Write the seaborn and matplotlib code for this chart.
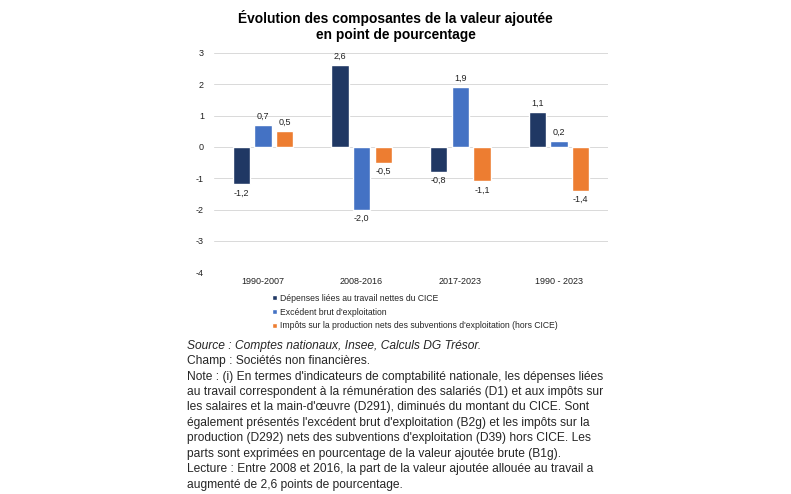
import pandas as pd
import seaborn as sns
import matplotlib.pyplot as plt

periodes = ["1990-2007", "2008-2016", "2017-2023", "1990 - 2023"]
series = [
    "Dépenses liées au travail nettes du CICE",
    "Excédent brut d'exploitation",
    "Impôts sur la production nets des subventions d'exploitation (hors CICE)",
]
depenses = [-1.2, 2.6, -0.8, 1.1]
ebe = [0.7, -2.0, 1.9, 0.2]
impots = [0.5, -0.5, -1.1, -1.4]
couleurs = ["#203864", "#4472C4", "#ED7D31"]

df = pd.DataFrame({
    "periode": periodes * 3,
    "serie": [series[0]] * 4 + [series[1]] * 4 + [series[2]] * 4,
    "valeur": depenses + ebe + impots,
})

sns.set_style("white")
plt.rcParams["font.family"] = ["Liberation Sans", "DejaVu Sans"]
plt.rcParams["axes.unicode_minus"] = False

fig = plt.figure(figsize=(7.91, 4.94), dpi=100)
ax = fig.add_axes([0.27, 0.449, 0.499, 0.444])

sns.barplot(data=df, x="periode", y="valeur", hue="serie", palette=couleurs,
            saturation=1, width=0.66, gap=0.2, ax=ax, legend=True)

for c in ax.containers:
    vals = list(c.datavalues)
    labels = [f"{v:.1f}".replace(".", ",") for v in vals]
    ax.bar_label(c, labels=labels, padding=3, fontsize=6.5, color="#222222")

ax.set_ylim(-4, 3)
ax.set_yticks(range(-4, 4))
ax.yaxis.grid(True, color="#d9d9d9", linewidth=0.7)
ax.set_axisbelow(True)
for s in ax.spines.values():
    s.set_visible(False)
ax.tick_params(axis="both", length=0, labelsize=6.5, colors="#222222")
ax.tick_params(axis="y", pad=7)
ax.set_xlabel("")
ax.set_ylabel("")

ax.legend(loc="upper left", bbox_to_anchor=(0.14, -0.083), frameon=False,
          fontsize=6.2, handlelength=0.5, handleheight=0.5, handletextpad=0.4,
          labelspacing=0.55, borderaxespad=0)

fig.text(0.5, 0.98, "Évolution des composantes de la valeur ajoutée\nen point de pourcentage",
         ha="center", va="top", fontsize=9.9, fontweight="bold", linespacing=1.2,
         color="black")

fig.text(0.237, 0.312, "Source : Comptes nationaux, Insee, Calculs DG Trésor.",
         ha="left", va="top", fontsize=8.65, style="italic")
note = ("Champ : Sociétés non financières.\n"
        "Note : (i) En termes d'indicateurs de comptabilité nationale, les dépenses liées\n"
        "au travail correspondent à la rémunération des salariés (D1) et aux impôts sur\n"
        "les salaires et la main-d'œuvre (D291), diminués du montant du CICE. Sont\n"
        "également présentés l'excédent brut d'exploitation (B2g) et les impôts sur la\n"
        "production (D292) nets des subventions d'exploitation (D39) hors CICE. Les\n"
        "parts sont exprimées en pourcentage de la valeur ajoutée brute (B1g).\n"
        "Lecture : Entre 2008 et 2016, la part de la valeur ajoutée allouée au travail a\n"
        "augmenté de 2,6 points de pourcentage.")
fig.text(0.237, 0.281, note, ha="left", va="top", fontsize=8.65, linespacing=1.38)

fig.savefig("out.png", dpi=100)
